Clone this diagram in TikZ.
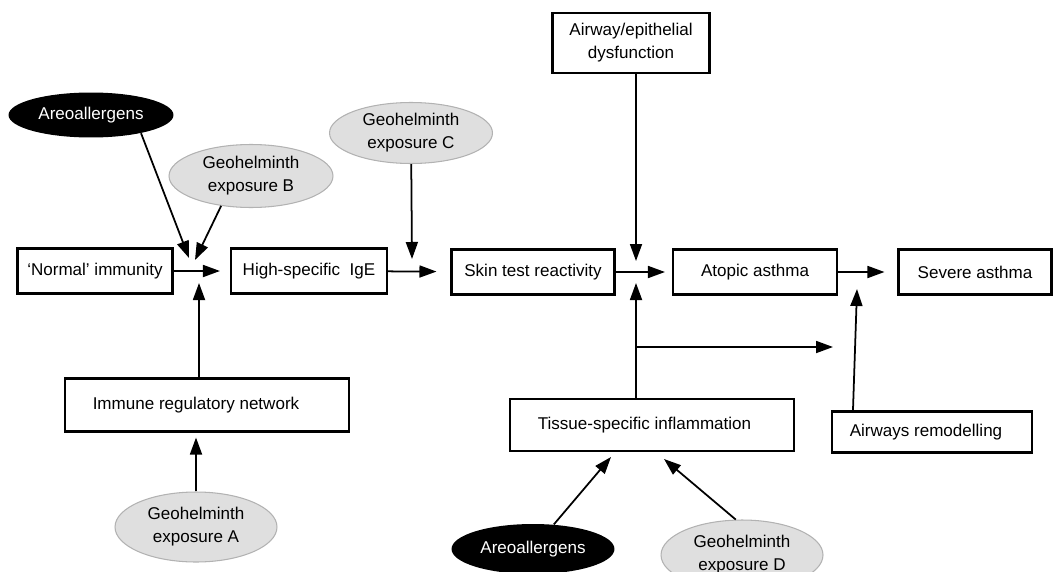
\documentclass[tikz,border=0pt]{standalone}
\usepackage{fontspec}
\setmainfont{Liberation Sans}
\usetikzlibrary{shapes.geometric,arrows.meta}
\newcommand{\labfont}{\fontsize{9.7}{13}\selectfont}

\begin{document}
\begin{tikzpicture}[x=0.02cm,y=-0.02cm,
   box/.style={draw,line width=1.2pt,minimum height=0.9cm,inner sep=0pt,font=\labfont,align=center},
   geo/.style={ellipse,draw=gray!60,fill=gray!25,line width=0.6pt,inner sep=0pt,font=\labfont,align=center},
   aero/.style={ellipse,fill=black,text=white,inner sep=0pt,font=\labfont},
   arr/.style={line width=1pt,-{Triangle[length=0.34cm,width=0.24cm]}}]
   \useasboundingbox (0,0) rectangle (1053,571);
   \node[box,minimum width=3.1cm]  (normal) at (95,271)  {‘Normal’ immunity};
   \node[box,minimum width=3.12cm] (ige)    at (309,271) {High-specific\ \ IgE};
   \node[box,minimum width=3.26cm] (skin)   at (533,272) {Skin test reactivity};
   \node[box,minimum width=3.28cm] (atopic) at (755,272) {Atopic asthma};
   \node[box,minimum width=3.06cm] (severe) at (975,272) {Severe asthma};
   \node[box,minimum width=3.14cm,minimum height=1.2cm]  (airway)  at (631,43)  {Airway/epithelial\\dysfunction};
   \node[box,minimum width=5.68cm,minimum height=1.06cm] (immune)  at (207,405) {Immune regulatory network\hspace*{0.44cm}};
   \node[box,minimum width=5.68cm,minimum height=1.04cm] (tissue)  at (652,425) {Tissue-specific inflammation\hspace*{0.3cm}};
   \node[box,minimum width=4cm,minimum height=0.82cm]    (remodel) at (932,432) {Airways remodelling\hspace*{0.24cm}};
   \node[aero,minimum width=3.3cm,minimum height=0.9cm]  (aeroA) at (91,115)  {Areoallergens};
   \node[geo,minimum width=3.28cm,minimum height=1.26cm] (geoB)  at (251,176) {Geohelminth\\exposure B};
   \node[geo,minimum width=3.26cm,minimum height=1.22cm] (geoC)  at (411,133) {Geohelminth\\exposure C};
   \node[geo,minimum width=3.24cm,minimum height=1.4cm]  (geoA)  at (196,527) {Geohelminth\\exposure A};
   \node[aero,minimum width=3.26cm,minimum height=1cm]   (aeroB) at (533,549) {Areoallergens};
   \node[geo,minimum width=3.24cm,minimum height=1.4cm]  (geoD)  at (742,555) {Geohelminth\\exposure D};
   \coordinate (j1) at (189,258);
   \coordinate (j2) at (195,260);
   \coordinate (j3) at (199,283);
   \coordinate (j4) at (412,259);
   \coordinate (j5) at (636,261);
   \coordinate (j6) at (636,283);
   \coordinate (j7) at (636,347);
   \coordinate (j8) at (833,347);
   \coordinate (j9) at (857,289);
   \coordinate (j10) at (611,457);
   \coordinate (j11) at (664,459);
   \draw[arr,shorten >=0.2cm]  (normal) -- (ige);
   \draw[arr,shorten >=0.28cm] (ige) -- (skin);
   \draw[arr,shorten >=0.14cm] (skin) -- (atopic);
   \draw[arr,shorten >=0.26cm] (atopic) -- (severe);
   \draw[arr] (aeroA.-20) -- (j1);
   \draw[arr] (geoB.225) -- (j2);
   \draw[arr] (j3 |- immune.north) -- (j3);
   \draw[arr,shorten >=0.1cm] (geoA.north) -- (geoA.north |- immune.south);
   \draw[arr] (geoC) -- (j4);
   \draw[arr] (j5 |- airway.south) -- (j5);
   \draw[arr] (j6 |- tissue.north) -- (j6);
   \draw[arr] (j7) -- (j8);
   \draw[arr] (remodel.north west) ++(22,0) -- (j9);
   \draw[arr] (aeroB) -- (j10);
   \draw[arr] (geoD.100) -- (j11);
\end{tikzpicture}
\end{document}
